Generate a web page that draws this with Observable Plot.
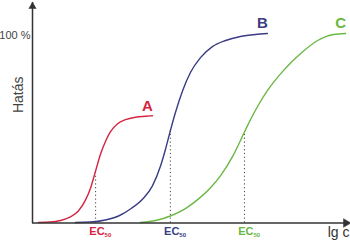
<!DOCTYPE html>
<html>
<head>
<meta charset="utf-8">
<script src="https://cdn.jsdelivr.net/npm/d3@7"></script>
<script src="https://cdn.jsdelivr.net/npm/@observablehq/plot@0.6"></script>
<style>
  html, body { margin: 0; padding: 0; background: #fff; }
  #chart { width: 350px; height: 242px; }
</style>
</head>
<body>
<div id="chart"></div>
<script>
// Dose-response curves (x: lg c in arbitrary units, y: effect %)
const seriesNames = ["A", "B", "C"];
const seriesColors = ["#d42440", "#3a3c84", "#6ab743"];

const xA = [0.19, 0.57, 0.89, 1.21, 1.46, 1.69, 1.85, 2.01, 2.17, 2.32, 2.48, 2.71, 2.96, 3.28, 3.60, 3.82];
const yA = [0.3, 0.5, 1.3, 3.2, 6.3, 12.2, 18.5, 27.5, 36.5, 42.9, 48.1, 52.4, 54.5, 55.8, 56.3, 56.6];

const xB = [1.37, 1.85, 2.32, 2.74, 3.12, 3.54, 3.82, 4.08, 4.24, 4.39, 4.55, 4.78, 5.03, 5.35, 5.73, 6.15, 6.62, 7.10, 7.48];
const yB = [0.3, 0.5, 1.6, 3.7, 7.4, 13.2, 19.6, 30.2, 39.2, 48.7, 58.2, 69.8, 79.4, 87.3, 93.1, 96.3, 98.4, 99.5, 100];

const xC = [3.44, 3.92, 4.39, 4.87, 5.25, 5.67, 5.99, 6.37, 6.75, 6.94, 7.20, 7.48, 7.99, 8.54, 9.08, 9.59, 9.97];
const yC = [0.3, 1.3, 3.7, 7.6, 12.2, 18.6, 25.0, 35.0, 48.0, 54.5, 62.4, 69.8, 80.4, 89.4, 96.3, 99.5, 100];

// EC50 positions and the effect at that point
const ec50X = [2.01, 4.39, 6.75];
const ec50Y = [27.5, 48.7, 48.0];

const yAxisLabel = "Hatás";
const xAxisLabel = "lg c";
const topTickLabel = "100 %";
const topTickValue = 100;
const ecText = "EC";
const ecSub = "50";

const curves = [];
[[xA, yA], [xB, yB], [xC, yC]].forEach(([xs, ys], i) => {
  xs.forEach((x, j) => curves.push({series: seriesNames[i], x, y: ys[j]}));
});
const ends = seriesNames.map((s, i) => {
  const xs = [xA, xB, xC][i], ys = [yA, yB, yC][i];
  return {series: s, x: xs[xs.length - 1], y: ys[ys.length - 1]};
});
const ecs = ec50X.map((x, i) => ({series: seriesNames[i], x, y: ec50Y[i]}));

const xDomain = [0, 10];
const axisColor = "#333";
const font = "Liberation Sans, Arial, sans-serif";

const plot = Plot.plot({
  width: 350,
  height: 242,
  marginLeft: 32,
  marginRight: 1,
  marginTop: 2,
  marginBottom: 19,
  style: {fontFamily: font, background: "#fff", overflow: "visible"},
  x: {domain: xDomain, range: [32, 346], axis: null},
  y: {domain: [0, 100], range: [222.5, 33], axis: null},
  color: {domain: seriesNames, range: seriesColors, legend: false},
  marks: [
    // dotted EC50 droplines
    Plot.ruleX(ecs, {x: "x", y1: 0, y2: "y", stroke: "#444", strokeWidth: 1, strokeDasharray: "1.2,2.6"}),
    // curves
    Plot.line(curves, {x: "x", y: "y", z: "series", stroke: "series", strokeWidth: 1.4, curve: "monotone-x"}),
    // axes
    Plot.ruleX([xDomain[0]], {stroke: axisColor, strokeWidth: 1.5}),
    Plot.ruleY([0], {stroke: axisColor, strokeWidth: 1.5}),
    Plot.dot([xDomain[0]], {x: d => d, frameAnchor: "top", dy: 4, symbol: "triangle", r: 3, fill: axisColor, stroke: "none"}),
    Plot.dot([xDomain[1]], {x: d => d, y: () => 0, dx: -0.5, symbol: "triangle", rotate: 90, r: 3.2, fill: axisColor, stroke: axisColor, strokeWidth: 0.5}),
    // series labels
    Plot.text(ends, {x: "x", y: "y", text: "series", fill: "series", dx: -5, dy: -10, fontSize: 15, fontWeight: "bold"}),
    // EC50 labels
    Plot.text(ecs, {x: "x", text: () => ecText, fill: "series", frameAnchor: "bottom", textAnchor: "end", dx: 9, dy: 11, fontSize: 11, fontWeight: "bold"}),
    Plot.text(ecs, {x: "x", text: () => ecSub, fill: "series", frameAnchor: "bottom", textAnchor: "start", dx: 9, dy: 13.5, fontSize: 6, fontWeight: "bold"}),
    // axis labels
    Plot.text([xAxisLabel], {frameAnchor: "bottom-right", textAnchor: "end", dx: 0, dy: 13, fontSize: 14, fill: "#333"}),
    Plot.text([yAxisLabel], {frameAnchor: "left", y: () => 58, rotate: -90, dx: -14, fontSize: 14, fill: "#444"}),
    Plot.text([topTickLabel], {y: () => topTickValue, frameAnchor: "left", textAnchor: "end", dx: -2, dy: 2, fontSize: 11, fill: "#444"})
  ]
});
document.getElementById("chart").appendChild(plot);
</script>
</body>
</html>
